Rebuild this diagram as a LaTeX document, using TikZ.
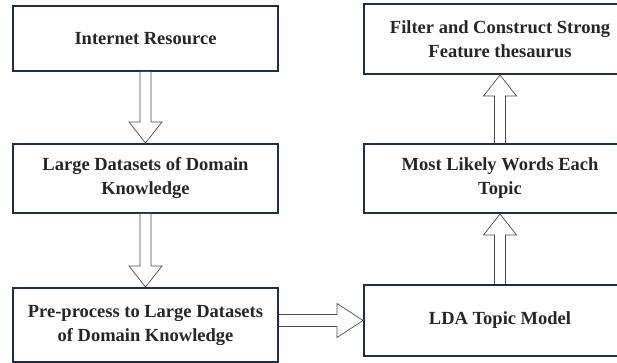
\documentclass[tikz,border=0pt]{standalone}
\usepackage{fontspec}
\setmainfont{Liberation Serif}
\usetikzlibrary{calc}
\definecolor{boxblue}{HTML}{1C2E4A}
\definecolor{txtgray}{HTML}{262626}

\begin{document}
\begin{tikzpicture}[x=1pt,y=1pt,
  box/.style={draw=boxblue,line width=2pt,fill=white,inner sep=0pt,align=center,text=txtgray,
    font=\bfseries\fontsize{18.5}{24}\selectfont},
  blk/.style={draw=black!70,line width=0.7pt,fill=white}]
\useasboundingbox (0,0) rectangle (617,363);
\clip (0,0) rectangle (617,363);
% left column
\node[box,minimum width=265,minimum height=65] (res) at (145.5,324.5) {Internet Resource};
\node[box,minimum width=265,minimum height=69] (large) at (145.5,184.5) {Large Datasets of Domain\\Knowledge};
\node[box,minimum width=265,minimum height=74] (pre) at (145.5,38) {Pre-process to Large Datasets\\of Domain Knowledge};
% right column
\node[box,minimum width=272,minimum height=70] (filter) at (500,324) {Filter and Construct Strong\\Feature thesaurus};
\node[box,minimum width=272,minimum height=69] (most) at (500,184.5) {Most Likely Words Each\\Topic};
\node[box,minimum width=272,minimum height=71] (lda) at (500,42.5) {LDA Topic Model};
% hollow block arrows
\foreach \s/\t in {res/large,large/pre}
  \draw[blk] ($(\s.south)+(-5.5,0)$) -- ($(\t.north)+(-5.5,21)$) -- ++(-11,0) -- (\t.north) -- ++(16.5,21) -- ++(-11,0) -- ($(\s.south)+(5.5,0)$);
\foreach \s/\t in {lda/most,most/filter}
  \draw[blk] ($(\s.north)+(-5.5,0)$) -- ($(\t.south)+(-5.5,-21)$) -- ++(-11,0) -- (\t.south) -- ++(16.5,-21) -- ++(-11,0) -- ($(\s.north)+(5.5,0)$);
\coordinate (st) at (pre.east |- lda.west);
\draw[blk] ($(st)+(0,6)$) -- ($(lda.west)+(-26,6)$) -- ++(0,11) -- (lda.west) -- ++(-26,-17) -- ++(0,11) -- ($(st)+(0,-6)$);
\end{tikzpicture}
\end{document}
